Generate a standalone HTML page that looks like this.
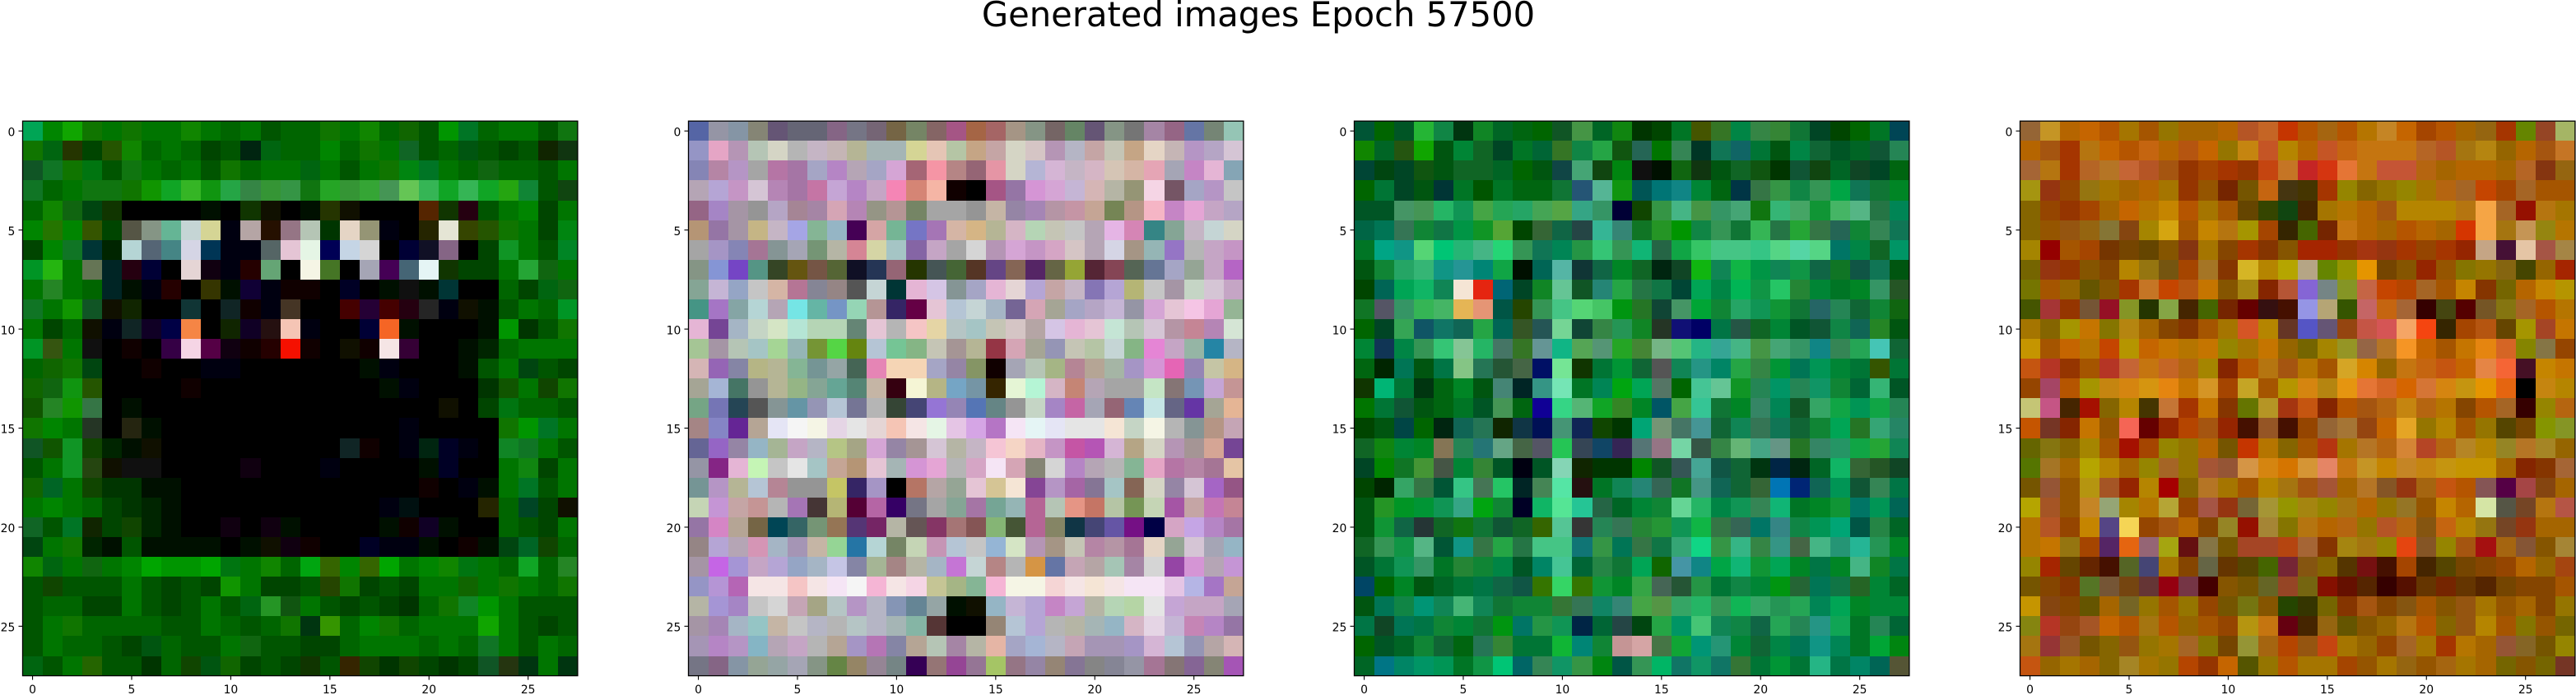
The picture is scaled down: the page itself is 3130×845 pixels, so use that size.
<!DOCTYPE html>
<html>
<head>
<meta charset="utf-8">
<title>Generated images Epoch 57500</title>
<style>
html,body{margin:0;padding:0;background:#fff;width:3130px;height:845px;overflow:hidden}
svg{display:block}
text{font-family:"DejaVu Sans","Liberation Sans",sans-serif;fill:#000}
</style>
</head>
<body>
<svg id="chart" xmlns="http://www.w3.org/2000/svg" width="3130" height="845" viewBox="0 0 3130 845">
<rect x="0" y="0" width="3130" height="845" fill="#fff"/>
<text x="1529" y="32" font-size="41.67" text-anchor="middle">Generated images Epoch 57500</text>
</svg>
<script>
const tickLabels = [0, 5, 10, 15, 20, 25];

const panel1Pixels = [
"0a5 080 1a0 170 070 170 070 070 180 070 060 070 050 060 060 170 070 180 060 160 050 090 072 060 070 070 050 171",
"170 061 230 040 250 180 060 070 060 040 050 021 061 060 060 080 060 170 070 162 050 060 051 050 040 050 120 131",
"152 172 170 071 050 171 070 060 070 050 170 060 070 070 061 070 050 070 170 081 072 070 060 161 060 060 050 070",
"172 060 070 171 171 170 190 1a2 3b2 191 2a4 384 393 394 171 2a2 393 3a3 495 6c5 3b5 1a2 3b5 1a2 2a1 183 050 141",
"060 180 161 041 130 000 000 000 000 010 000 130 110 000 010 230 110 000 000 000 520 130 201 050 070 080 040 070",
"080 270 080 350 040 554 898 6b9 cdd dd9 001 baa 210 978 bcb 030 edc 997 001 000 220 eed 340 250 170 070 040 081",
"040 080 172 033 020 bdd 567 488 dde 035 001 001 566 ecd efe 005 cde ddd 000 003 112 868 000 040 192 070 050 082",
"092 2b1 070 675 022 201 003 000 edd 101 001 200 6a7 000 ffe 472 000 aab 405 467 eff 130 040 040 070 2a3 161 070",
"070 282 070 060 022 010 001 200 000 330 010 103 001 100 100 000 002 000 010 111 010 033 000 000 060 040 061 161",
"172 070 190 152 110 120 000 000 133 000 122 100 001 432 000 000 400 203 400 201 222 001 110 010 050 070 060 092",
"070 040 060 110 001 122 102 004 f84 000 120 102 211 fcb 001 000 000 003 f62 010 000 000 000 010 090 030 050 170",
"092 351 070 111 000 100 000 304 fde 504 101 100 200 f10 100 000 110 100 fee 303 000 000 010 020 060 070 070 070",
"060 160 170 041 000 000 100 000 000 001 001 000 000 000 000 000 000 010 001 000 000 000 010 050 070 041 050 040",
"160 161 191 250 000 000 000 000 100 000 000 000 000 000 000 000 000 000 010 001 000 000 000 030 150 070 140 170",
"150 282 190 374 000 010 000 000 000 000 000 000 000 000 000 000 000 000 000 000 000 110 000 040 071 060 060 050",
"170 080 070 232 000 221 010 000 000 000 000 000 000 000 000 000 000 000 000 001 000 000 000 000 170 090 072 070",
"152 150 192 140 020 010 110 000 000 000 000 000 000 000 000 000 122 100 000 001 021 002 001 000 182 172 070 050",
"050 070 192 241 110 111 111 000 000 000 000 101 000 000 000 001 000 000 000 000 010 002 000 000 070 181 040 070",
"160 062 070 140 030 030 010 010 000 000 000 000 000 000 000 000 000 000 000 000 100 000 001 010 070 072 050 070",
"070 080 070 060 040 030 020 010 000 000 000 000 000 000 000 000 000 000 001 011 000 000 000 220 060 042 040 110",
"162 050 072 120 040 140 020 010 000 000 101 000 101 010 000 000 000 000 010 100 102 010 000 000 060 050 040 070",
"041 070 170 020 010 050 010 010 010 010 000 010 110 101 100 000 000 002 001 001 010 000 100 010 041 062 140 060",
"180 061 070 161 070 080 0a0 090 090 0a0 071 070 180 060 0a1 360 080 360 0a0 070 080 180 071 070 060 1a2 060 282",
"050 140 050 050 050 070 050 040 050 040 190 070 040 040 050 240 170 040 050 040 070 070 160 070 170 070 060 170",
"050 060 060 040 040 070 050 040 050 070 050 061 292 151 070 050 040 050 040 030 060 170 182 090 070 050 050 050",
"050 070 170 060 060 060 060 050 050 070 060 050 060 170 031 390 060 080 170 060 070 070 070 1a0 070 050 040 050",
"050 070 060 060 050 040 051 060 050 050 070 161 050 050 040 040 060 070 070 070 060 070 060 172 070 050 070 060",
"061 050 070 260 050 050 030 060 140 051 160 040 050 040 130 050 320 140 030 140 040 030 040 152 231 031 070 031"
];

const panel2Pixels = [
"56a 99a 89a 887 657 667 667 868 778 767 764 786 866 a58 a64 a66 a98 898 766 686 657 898 777 a8a 968 67a 787 9cb",
"99c eac b9b bcb ddc bbb cbc cbb bb9 abb abb dd9 ecb bca ca8 caa ddc dcc b9b bbc caa ccb ca8 edc cbb b9c bac dcd",
"88b b8a b9c aaa b7a a7a aac b8c bab aac dad a67 f9a b88 967 e9a ddc bbd dbd cbc dbc dcb dba eab aab c8c ebd 8ab",
"bab bad c9c dcd b8b a7a c7a cad b8c cac f8b d87 fba 100 000 a58 97a d9d dad cbd dbb bba 997 fde 756 aac b9c ccc",
"968 a8c a9a 999 bac a89 a8a dab b8b 998 b99 786 aaa aaa 999 cba 98a a8b b9a c9a ca9 785 b98 fbc c8c ead cac bac",
"b97 97a a9a cb8 cbc aae 8b9 9bc 405 daa 7b9 77c a7b dba db8 bb9 dbc bdb ccb ccc bab ebe d8b 388 8a9 cbc cdd ddc",
"aaa a9c 88b a79 899 aab 797 bba d89 dda acc 86a cac aaa ddd b9b dad c9c dac dcc bab dde a98 9bb 97c bbb cac c9c",
"898 89d 74c 598 342 651 754 563 112 235 967 230 455 463 532 648 865 526 664 9a3 523 845 565 679 aac 9a9 cac b6c",
"8a9 cbd 9ac ccc dba b79 889 988 555 cdd 033 ebd dce 899 aac ebd edd bad caa cbc 87b bad bb7 ccc a9a cdc dcd cac",
"498 a7c 8aa bdd bab 7ee 6ba 79c 9db b99 326 604 ecd bcd cdd abc 769 dab aa9 aac bac cbd 99a dad ecd fce ead 9b9",
"ebd 749 abc cdc dec bed bdb bdb 687 ecd bbb fcc eda bcc acc ccb dcc baa dce ebd ecd ced bcb dcd b9a c89 b8b ded",
"ac9 a9a bcb acc ad9 9bb 793 5d4 681 bcd 7c9 8b8 ccb a99 bb9 934 dab aa9 99b ccb bca cdd 8b8 e8d cac 9ba 28a bbc",
"dbb 96b 88a bb8 bb9 8b9 799 9aa 465 e8b fdb fdb aac 98a 896 100 aab bcb ab8 b89 ba9 aba a9c d9d e6b 98b cca db8",
"aa9 abd 476 999 bb9 9b8 8a9 6a9 587 cba 301 ffd bb8 7ac 79a 320 efd bfd dbc c87 bab aaa aaa cec 877 79b cad c99",
"7a8 77b 245 555 899 69a 99b bcd 779 bbb 343 447 97d 98b 57b 688 999 cdc a8c c6a aab 967 68b cee 668 63a aa9 eb9",
"a88 88c 629 ba9 eef fff ffe ede eee edd fcb fee efe ece dae b7c fef eff eef eee eee fed cdc ffe bbb 899 b98 cab",
"669 96c 98a 9bc ab9 cac bbc bc8 aa8 dad 98a a99 dcd bba cbc fcd fdc ebc c9c c5a b5b dbd ba8 ddc b9b a99 da9 749",
"99a 828 ebd cfb ccc eee acc ca9 b97 ecd abb d9d ead bbb dac fef dab 887 ddd b8c bab bbb 8b9 eac b7a b8a a79 eca",
"799 b9c bb9 bcd b89 999 999 cc6 326 a9c 000 b76 baa 9a9 ecd dc9 fed 849 b9c a6a 879 acc 865 ddc 98a dcd a6c 958",
"cdb c9d caa c99 bbb a7b 433 bb7 503 b6a 306 778 aaa 8a9 a7a 7a9 9bb b69 bcb e98 c76 bca 795 cdb a5a caa c7b c89",
"97a d8c ba9 764 045 366 797 975 537 726 bba 655 836 a77 855 8b7 453 b69 886 134 447 65a 718 004 dac cae b8c a7a",
"988 bad bab d9b abc a9b cba 9d9 27a bdd 786 cdb c9b bcd ccc 9bd dec b9b a98 ccb b8a b9a a79 edc 9a9 dcd aab 9bc",
"a9a c6e a9d cac bad 9ac abc cce 88a ab9 a88 bba abc c7d cdd b88 bbb d94 67a cab baa acb a8a ddd 94a d9d bab c9d",
"99c b9d b6b fee fee fcc fee fef fff fbd fee fde cc9 ab8 8b9 fbd ffe ffe fdd fee fed fee fef fef ece bbe a7c ca9",
"bba a9d a8c ccc ddd cab aa8 bcc b9c bbc 89b 689 9aa 010 110 9bc cbd bad c8c cad bba bdb bda eee cad cac cac aab",
"a9a a8b abc 9cc cba ccc bbc bbb bcc bbc abb 8ba 533 000 000 987 bcd bad bbb bba abb 9bc dbc ede cbd c8b b8c 97a",
"a9b b8c b9c 8bc bab cac bbb ba9 a9c b7b 88a ba9 bcb a8a bba eba aac abd bbc cab a9b a9b a9c dbd bcd 99b baa dbb",
"778 868 89a 9a9 9aa aab 898 684 986 989 788 305 977 949 979 ac6 978 98a 987 879 888 889 99a a79 877 869 887 a5b"
];

const panel3Pixels = [
"053 060 052 2b3 184 031 182 062 061 060 152 494 062 181 030 040 072 450 372 084 384 383 173 042 040 060 072 045",
"180 062 251 1a0 051 083 162 042 072 063 372 184 2a4 151 265 070 385 032 175 166 073 051 084 163 052 062 153 285",
"043 041 042 151 051 162 162 062 060 051 144 4a7 141 081 111 010 161 131 051 162 151 030 153 141 062 142 042 061",
"060 073 042 051 033 072 050 072 061 061 173 257 5b9 191 055 077 188 083 061 034 374 394 184 395 0a4 175 173 082",
"052 052 496 495 2b6 195 4a4 2a5 2a6 4a5 5a4 3a8 396 003 140 394 4b8 494 396 4a7 171 3b7 4a6 193 4b6 5b8 274 085",
"064 075 375 183 174 094 192 5a3 040 363 164 244 3b9 387 172 292 090 184 395 173 3b5 274 2a3 374 265 183 385 175",
"072 0a8 198 5d7 0c7 2b7 4b8 2d7 395 175 085 294 3c7 395 1b7 264 1a4 3c6 4c8 4c8 3c8 5d8 5da 5d8 076 084 162 096",
"051 183 2a6 3b7 198 299 087 1a4 010 065 5ba 133 164 082 162 021 142 1b1 185 1b4 094 185 194 164 172 154 175 051",
"040 065 0a5 1b6 185 fed e21 067 042 182 6c9 152 287 2a4 274 174 043 0a5 084 0b5 194 2c6 283 083 072 082 396 252",
"172 556 396 3b5 4b6 eb5 e97 054 240 395 4c8 5d7 4c6 091 272 143 496 0a3 183 2a6 195 193 173 266 285 163 183 161",
"060 042 3a5 156 176 165 2a4 065 352 255 7d9 143 384 295 182 232 117 006 074 254 162 083 052 153 184 165 282 051",
"083 135 084 395 3c7 8c9 2b6 476 372 699 1b8 5a5 597 2a2 483 7b8 5c7 2b8 3a9 4b8 494 4a7 396 188 385 2a5 4cb 163",
"061 020 075 051 074 8c8 275 253 464 016 7e9 130 073 093 163 555 185 298 086 2a4 384 093 075 095 083 073 350 073",
"130 0b7 073 031 061 082 051 487 022 398 7eb 072 085 0a1 0a5 576 060 4c9 6c9 192 285 096 285 196 183 063 3b7 052",
"070 073 153 051 061 072 052 495 061 109 3d8 5b7 1a2 382 082 056 4a4 3c9 173 082 386 085 152 3a6 1a4 095 1a4 285",
"040 051 044 060 021 165 275 120 134 015 497 125 140 030 0a7 797 476 499 163 185 375 175 163 183 0a5 272 3a7 286",
"162 181 083 082 875 285 277 6a8 464 556 2c5 345 146 325 577 978 7da 354 384 6b7 4a8 698 272 386 296 1a4 2a3 185",
"042 080 172 493 454 083 383 052 001 052 8db 120 030 030 080 152 355 4a9 154 163 031 024 021 062 1b6 363 252 142",
"040 020 3a6 374 053 3c8 475 2c6 022 485 5ea 211 072 185 287 365 172 498 165 163 363 07b 027 165 095 153 385 074",
"051 292 092 093 195 3a8 0a1 183 002 1b6 5e9 2c9 264 062 083 183 6d9 2b6 084 195 385 1b7 072 082 193 076 095 065",
"051 193 164 233 162 171 173 153 162 360 5c9 333 285 375 283 293 195 1b4 374 365 076 388 184 095 0a7 054 284 062",
"162 395 194 5b8 053 198 374 2a4 274 4c8 4c8 177 394 075 374 174 3a7 1d8 394 3b8 384 398 464 4b8 297 2b9 295 082",
"052 073 195 396 072 283 183 084 052 086 4c9 063 284 173 0a5 160 49a 188 0a4 1b7 193 0a5 082 074 082 4b8 182 074",
"046 060 082 051 062 073 074 164 154 370 3d6 370 193 082 3a4 465 253 294 073 184 083 091 263 075 174 262 083 062",
"051 075 184 097 185 4b7 185 173 183 183 373 375 186 387 4a4 594 3a6 2b6 395 1b5 3a6 295 2a5 085 0a5 082 083 083",
"074 142 075 074 183 083 173 091 076 294 195 024 063 244 041 2a4 096 4c7 185 184 164 2a5 285 298 1a5 072 285 063",
"060 052 062 183 163 061 275 383 073 073 1b3 087 183 c99 daa 474 1a3 097 297 083 163 084 075 198 085 072 0a3 081",
"062 078 086 096 095 072 194 0c7 066 385 196 394 081 054 395 0b6 176 196 176 373 073 093 073 2b8 074 086 065 553"
];

const panel4Pixels = [
"963 c92 b60 c60 b50 a70 a50 970 a60 a60 b60 b52 c62 c30 b50 a61 b50 b70 c82 c60 a40 b50 a60 961 a30 680 942 ab6",
"b60 a51 a30 b71 c60 b50 c61 b60 b51 c60 970 c81 c52 b80 b60 c52 c61 c71 c71 c71 b62 b52 a71 b81 960 b60 a51 c72",
"a63 b71 a30 b62 b72 c63 b52 a51 930 a40 a30 930 c41 c72 c22 d31 e73 c71 c53 c53 b61 a60 b60 b60 a60 b62 831 961",
"a91 931 940 971 a70 a60 b60 a70 930 950 720 750 c61 431 430 a30 980 860 970 980 a70 b61 a62 c40 a40 a62 a50 a50",
"860 940 930 a40 a60 c60 b70 c80 b50 a70 a50 640 340 141 420 a70 b70 b60 a51 b80 b80 b80 b71 fa4 a62 910 b71 a70",
"860 950 951 961 873 841 a80 da1 a50 c80 b71 a90 a40 320 460 720 c71 b60 a60 b50 b60 a60 d30 fa4 a71 c95 981 b70",
"a80 900 a50 a40 730 740 640 850 831 a70 840 a30 830 850 a20 a20 930 a31 931 a30 940 a30 920 ca8 413 eca a54 a84",
"760 931 930 850 840 b80 971 751 a40 a72 830 db2 b80 ba0 ba8 680 990 e90 740 850 920 950 870 970 861 440 960 a20",
"770 a50 960 650 850 a30 c72 c40 b51 c70 850 a81 820 b53 86d 788 892 c64 c40 b40 a62 a50 c80 830 760 b60 c80 b90",
"450 a33 930 753 912 892 230 8a4 420 460 720 600 311 410 99e ba7 350 c66 c61 a63 300 441 500 752 871 a62 b50 b70",
"a70 860 a90 c70 870 b81 a60 840 830 a50 a70 d52 b80 632 55c 657 941 c54 d55 fa6 f41 320 a40 b51 640 a90 a42 c70",
"c90 a50 c60 b70 c40 b90 c60 c70 b70 c70 980 a70 c70 960 760 a80 992 964 b72 f92 c60 a50 c70 e81 d62 880 874 940",
"c51 b32 930 a50 b32 c63 c71 c62 b61 a80 820 b50 b71 a51 b70 a50 da2 d80 960 c71 c61 c51 c60 e84 f63 412 c80 c70",
"940 a46 b50 a90 c81 d81 d91 e81 c70 d92 a40 ca2 a50 b90 d81 b81 e91 e73 d62 d60 d73 d81 c91 e90 e61 000 c81 b80",
"cc7 c58 420 a10 860 b80 430 c73 a30 c70 830 670 b92 a31 c51 820 b50 a51 b61 c81 b61 b70 840 b50 a62 300 980 b61",
"c50 732 820 c70 950 f65 600 920 b40 a51 920 410 952 410 940 963 a73 941 c60 ea2 970 b80 a50 970 540 740 890 892",
"660 871 860 a80 a50 a10 a40 980 970 b60 750 c30 b70 860 a50 b31 a70 b72 b61 d83 b42 b61 b82 b80 982 b72 a82 960",
"570 a72 a60 ba0 b80 a60 980 a62 970 a53 953 d94 d81 d70 d93 e86 c71 c92 c80 c82 c81 c91 c90 c90 a60 820 830 a63",
"750 953 950 b91 a52 920 b80 a00 860 b72 a70 a50 b80 a71 a51 a53 a60 b72 852 931 a61 c51 b50 855 504 a44 841 a60",
"ba0 a52 950 c82 9a7 a80 b70 ba3 940 a54 931 763 a93 990 a81 980 a71 b60 970 972 950 c80 b60 dea 554 742 b71 b54",
"b70 b52 940 c80 548 fd5 940 a51 b60 840 982 910 a83 870 b71 b60 b61 970 b52 b61 851 c61 b80 971 742 931 a60 a60",
"b70 c70 971 a40 526 e61 967 aa1 611 874 750 a42 a42 b41 a63 830 a81 a71 980 e41 852 980 a51 a11 a61 853 850 a83",
"980 a20 640 620 410 562 447 a70 840 664 630 540 460 723 851 860 530 711 410 a40 420 540 740 840 940 b60 960 a41",
"750 840 830 572 753 741 633 901 734 400 850 750 662 942 761 810 610 520 300 510 630 720 630 520 740 840 840 a50",
"c90 841 840 650 a60 762 970 a50 970 940 750 771 850 240 330 760 830 a51 840 851 a50 850 951 a70 950 a60 840 970",
"881 b32 941 a52 c60 b50 a71 b50 960 a50 940 b91 c71 601 420 961 650 850 960 b71 b50 860 951 b80 a50 870 950 760",
"a71 933 952 750 860 951 970 a70 a62 870 740 993 a61 b40 951 c41 a70 960 940 a62 a70 a30 b70 a60 953 862 750 980",
"c51 960 a70 a60 860 a82 a70 970 b40 930 c60 550 970 b50 a70 a70 a40 950 a70 961 950 a61 a70 a60 760 850 760 732"
];

const panelPixels = [panel1Pixels, panel2Pixels, panel3Pixels, panel4Pixels];

const NS = 'http://www.w3.org/2000/svg';
const svg = document.getElementById('chart');
const panelLefts = [27.5, 836.5, 1645.5, 2454.5];
const plotTop = 147.2;
const plotSize = 674.4;
const gridSize = 28;

function cellEdge(i) { return i * plotSize / gridSize; }
function xScale(left, v) { return left + cellEdge(v + 0.5); }
function yScale(v) { return plotTop + cellEdge(v + 0.5); }

// Each hex digit names a 16-wide brightness bin; paint near the middle of that bin.
function digitToByte(d) {
  const n = parseInt(d, 16);
  return n * 16 + (n > 1 ? 5 : 0);
}
function cellColor(token) {
  return 'rgb(' + digitToByte(token[0]) + ',' + digitToByte(token[1]) + ',' + digitToByte(token[2]) + ')';
}

function line(x1, y1, x2, y2, parent) {
  const l = document.createElementNS(NS, 'line');
  l.setAttribute('x1', x1);
  l.setAttribute('y1', y1);
  l.setAttribute('x2', x2);
  l.setAttribute('y2', y2);
  l.setAttribute('stroke', '#000');
  l.setAttribute('stroke-width', '1.11');
  parent.appendChild(l);
  return l;
}

panelPixels.forEach(function (rows, p) {
  const left = panelLefts[p];
  const g = document.createElementNS(NS, 'g');
  
  
  svg.appendChild(g);

  rows.forEach(function (rowText, r) {
    rowText.split(' ').forEach(function (hex, c) {
      const x0 = Math.round(left + cellEdge(c));
      const x1 = Math.round(left + cellEdge(c + 1));
      const y0 = Math.round(plotTop + cellEdge(r));
      const y1 = Math.round(plotTop + cellEdge(r + 1));
      const cell = document.createElementNS(NS, 'rect');
      
      
      cell.setAttribute('x', x0);
      cell.setAttribute('y', y0);
      cell.setAttribute('width', x1 - x0);
      cell.setAttribute('height', y1 - y0);
      cell.setAttribute('fill', cellColor(hex));
      cell.setAttribute('shape-rendering', 'crispEdges');
      g.appendChild(cell);
    });
  });

  const frame = document.createElementNS(NS, 'rect');
  
  
  frame.setAttribute('x', left);
  frame.setAttribute('y', plotTop);
  frame.setAttribute('width', plotSize);
  frame.setAttribute('height', plotSize);
  frame.setAttribute('fill', 'none');
  frame.setAttribute('stroke', '#000');
  frame.setAttribute('stroke-width', '1.3');
  g.appendChild(frame);

  tickLabels.forEach(function (t) {
    const tx = xScale(left, t);
    const xTick = line(tx, plotTop + plotSize, tx, plotTop + plotSize + 5, g);
    
    
    const xLabel = document.createElementNS(NS, 'text');
    
    
    xLabel.setAttribute('x', tx);
    xLabel.setAttribute('y', 843);
    xLabel.setAttribute('font-size', '13.89');
    xLabel.setAttribute('text-anchor', 'middle');
    xLabel.textContent = String(t);
    g.appendChild(xLabel);

    const ty = yScale(t);
    const yTick = line(left - 5, ty, left, ty, g);
    
    
    const yLabel = document.createElementNS(NS, 'text');
    
    
    yLabel.setAttribute('x', left - 9.2);
    yLabel.setAttribute('y', ty + 6.2);
    yLabel.setAttribute('font-size', '13.89');
    yLabel.setAttribute('text-anchor', 'end');
    yLabel.textContent = String(t);
    g.appendChild(yLabel);
  });
});
</script>
</body>
</html>
